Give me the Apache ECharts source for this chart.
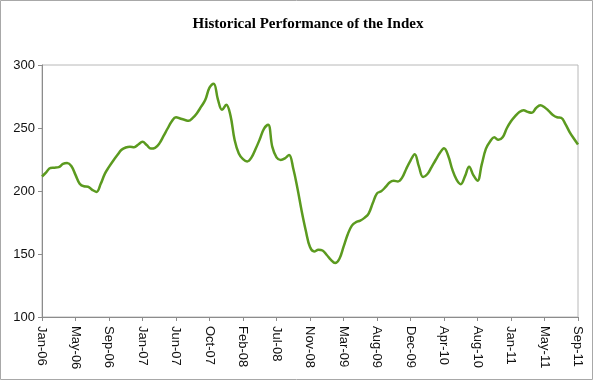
<!DOCTYPE html>
<html>
<head>
<meta charset="utf-8">
<script src="https://cdn.jsdelivr.net/npm/echarts@6/dist/echarts.min.js"></script>
<style>
html,body{margin:0;padding:0;background:#fff;}
#chart{width:598px;height:381px;}
</style>
</head>
<body>
<div id="chart"></div>
<script>
// Tick labels (one every 8 data points)
const tickLabels = ["Jan-06","May-06","Sep-06","Jan-07","Jun-07","Oct-07","Feb-08","Jul-08","Nov-08","Mar-09","Aug-09","Dec-09","Apr-10","Aug-10","Jan-11","May-11","Sep-11"];
const pointsPerTick = 8;
// Index level values
const indexValues = [
211.5,214.8,218.3,218.5,218.9,221.5,222.2,219.8,
212.8,205.8,203.7,203.4,200.9,199.3,205.5,213.6,
219.1,224.0,228.5,232.7,234.5,235.1,234.8,236.9,
239.0,236.5,233.7,234.3,237.6,243.5,249.6,255.4,
258.6,257.5,256.5,255.7,258.0,261.8,266.9,272.4,
282.0,285.2,272.8,264.4,268.5,260.0,240.5,229.8,
225.3,223.5,226.5,233.3,241.0,249.3,252.5,235.0,
226.7,224.7,225.9,228.6,217.9,202.2,184.3,168.5,
155.5,152.0,153.4,152.8,149.2,145.3,142.8,146.0,
155.6,165.5,172.5,175.3,176.5,178.7,182.1,190.5,
198.1,199.8,203.0,206.8,208.1,207.6,210.6,217.7,
224.2,229.2,219.5,211.1,213.3,218.8,224.6,230.1,
234.0,228.0,216.9,209.0,205.4,211.6,219.2,212.6,
208.2,220.9,233.4,239.3,242.6,240.6,242.6,249.8,
255.3,259.4,262.7,264.1,262.8,262.1,265.9,268.1,
266.5,263.6,260.4,258.5,258.1,253.1,246.8,241.7,
236.9
];
const titleText = "Historical Performance of the Index";

const categories = indexValues.map((v, i) =>
  i % pointsPerTick === 0 ? tickLabels[i / pointsPerTick] : "p" + i);

const chart = echarts.init(document.getElementById('chart'), null, {renderer: 'canvas'});
chart.setOption({
  animation: false,
  backgroundColor: '#ffffff',
  title: {
    text: titleText,
    left: 303, textAlign: 'center', top: 12,
    textStyle: {fontFamily: '"Liberation Serif","Times New Roman",serif', fontWeight: 'bold', fontSize: 15, color: '#000'}
  },
  graphic: [{
    type: 'rect', silent: true, z: 100,
    shape: {x: 0.5, y: 0.5, width: 592, height: 379},
    style: {fill: 'none', stroke: '#a8a8a8', lineWidth: 1}
  }],
  grid: {left: 42, right: 20, top: 65, bottom: 64, containLabel: false, show: true, borderColor: '#b8b8b8', borderWidth: 1, backgroundColor: 'transparent'},
  xAxis: {
    type: 'category', data: categories, boundaryGap: false,
    axisLine: {lineStyle: {color: '#8c8c8c', width: 1}},
    axisTick: {show: true, length: 4, interval: pointsPerTick - 1, lineStyle: {color: '#8c8c8c'}},
    axisLabel: {interval: pointsPerTick - 1, rotate: -90, margin: 9, fontFamily: '"Liberation Sans",Arial,sans-serif', fontSize: 13, color: '#111'},
    splitLine: {show: false}
  },
  yAxis: {
    type: 'value', min: 100, max: 300, interval: 50,
    axisLine: {show: true, lineStyle: {color: '#8c8c8c', width: 1}},
    axisTick: {show: true, length: 4, lineStyle: {color: '#8c8c8c'}},
    axisLabel: {margin: 7, fontFamily: '"Liberation Sans",Arial,sans-serif', fontSize: 13, color: '#111'},
    splitLine: {show: false}
  },
  series: [{
    type: 'line', data: indexValues, smooth: 0.4, symbol: 'none',
    lineStyle: {color: '#5b9a1f', width: 2.5}
  }]
});
</script>
</body>
</html>
